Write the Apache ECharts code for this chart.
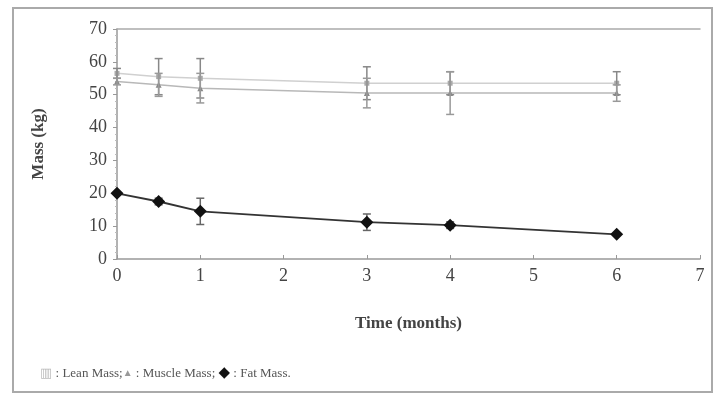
<!DOCTYPE html>
<html><head><meta charset="utf-8">
<script src="https://cdn.jsdelivr.net/npm/echarts@6/dist/echarts.min.js"></script>
<style>html,body{margin:0;padding:0;background:#fff}#c{width:715px;height:395px}</style>
</head><body><div id="c"></div>
<script>
const months = [0, 0.5, 1, 3, 4, 6];
const leanMass = [56.5, 55.5, 55, 53.5, 53.5, 53.5];
const leanErr = [1.5, 5.5, 6, 5, 3.5, 3.5];
const muscleMass = [54, 53, 52, 50.5, 50.5, 50.5];
const muscleErr = [1, 3.5, 4.5, 4.5, 6.5, 2.5];
const fatMass = [20, 17.5, 14.5, 11.2, 10.3, 7.5];
const fatErr = [0, 1, 4, 2.5, 1, 0];
const xTicks = [0, 1, 2, 3, 4, 5, 6, 7];
const yTicks = [0, 10, 20, 30, 40, 50, 60, 70];

const serif = '"Liberation Serif", "DejaVu Serif", serif';

function pairs(ys) { return months.map((m, i) => [m, ys[i]]); }
function errData(ys, es) { return months.map((m, i) => [m, ys[i] - es[i], ys[i] + es[i]]); }
function errSeries(ys, es, color) {
  return {
    type: 'custom', z: 3, silent: true,
    data: errData(ys, es),
    renderItem: function (params, api) {
      const lo = api.coord([api.value(0), api.value(1)]);
      const hi = api.coord([api.value(0), api.value(2)]);
      if (Math.abs(hi[1] - lo[1]) < 1) return null;
      const w = 4;
      const st = { stroke: color, lineWidth: 1.5 };
      return { type: 'group', children: [
        { type: 'line', shape: { x1: lo[0], y1: lo[1], x2: hi[0], y2: hi[1] }, style: st },
        { type: 'line', shape: { x1: lo[0] - w, y1: lo[1], x2: lo[0] + w, y2: lo[1] }, style: st },
        { type: 'line', shape: { x1: hi[0] - w, y1: hi[1], x2: hi[0] + w, y2: hi[1] }, style: st }
      ]};
    }
  };
}

const chart = echarts.init(document.getElementById('c'));
chart.setOption({
  animation: false,
  backgroundColor: '#fff',
  grid: { left: 117, right: 15, top: 29, bottom: 136 },
  xAxis: [{
    type: 'value', min: 0, max: 7, interval: 1,
    axisLine: { lineStyle: { color: '#999', width: 1.5 } },
    axisTick: { inside: true, length: 4, lineStyle: { color: '#999' } },
    axisLabel: { color: '#444', fontFamily: serif, fontSize: 18, margin: 8,
      formatter: v => xTicks.includes(v) ? String(v) : '' },
    splitLine: { show: false },
    name: 'Time (months)', nameLocation: 'middle', nameGap: 56,
    nameTextStyle: { color: '#444', fontFamily: serif, fontSize: 17, fontWeight: 'bold' }
  }, {
    type: 'value', min: 0, max: 7, position: 'top',
    axisLine: { show: true, lineStyle: { color: '#aaa', width: 1.5 } },
    axisTick: { show: false }, axisLabel: { show: false }, splitLine: { show: false }
  }],
  yAxis: {
    type: 'value', min: 0, max: 70, interval: 10,
    axisLine: { show: true, lineStyle: { color: '#999', width: 1.5 } },
    axisTick: { show: true, length: 4, lineStyle: { color: '#999' } },
    minorTick: { show: true, splitNumber: 5, length: 2, lineStyle: { color: '#bbb' } },
    axisLabel: { color: '#444', fontFamily: serif, fontSize: 18, margin: 10,
      formatter: v => yTicks.includes(v) ? String(v) : '' },
    splitLine: { show: false },
    name: 'Mass (kg)', nameLocation: 'middle', nameGap: 70, nameRotate: 90,
    nameTextStyle: { color: '#444', fontFamily: serif, fontSize: 17, fontWeight: 'bold' }
  },
  series: [
    { name: 'Lean Mass', type: 'line', data: pairs(leanMass), symbol: 'rect', symbolSize: 5,
      lineStyle: { color: '#d0d0d0', width: 1.5 }, itemStyle: { color: '#aaa' }, z: 2 },
    { name: 'Muscle Mass', type: 'line', data: pairs(muscleMass), symbol: 'triangle', symbolSize: 6,
      lineStyle: { color: '#b8b8b8', width: 1.5 }, itemStyle: { color: '#888' }, z: 2 },
    errSeries(leanMass, leanErr, '#888'),
    errSeries(muscleMass, muscleErr, '#999'),
    { name: 'Fat Mass', type: 'line', data: pairs(fatMass), symbol: 'diamond', symbolSize: 13,
      lineStyle: { color: '#333', width: 1.8 }, itemStyle: { color: '#111' }, z: 4 },
    errSeries(fatMass, fatErr, '#666')
  ],
  graphic: [
    { type: 'rect', shape: { x: 13, y: 8, width: 699, height: 384 },
      style: { fill: 'none', stroke: '#aaa', lineWidth: 2 }, z: -1 },
    { type: 'text', left: 40, top: 366, style: {
      text: '{sq|▥} : Lean Mass;{tri|▲} : Muscle Mass; {dia|◆} : Fat Mass.',
      fill: '#555', font: '13px ' + serif,
      rich: {
        sq: { fill: '#bbb', fontSize: 13, fontFamily: serif },
        tri: { fill: '#999', fontSize: 10, fontFamily: serif },
        dia: { fill: '#111', fontSize: 15, fontFamily: serif }
      }
    } }
  ]
});
</script></body></html>
